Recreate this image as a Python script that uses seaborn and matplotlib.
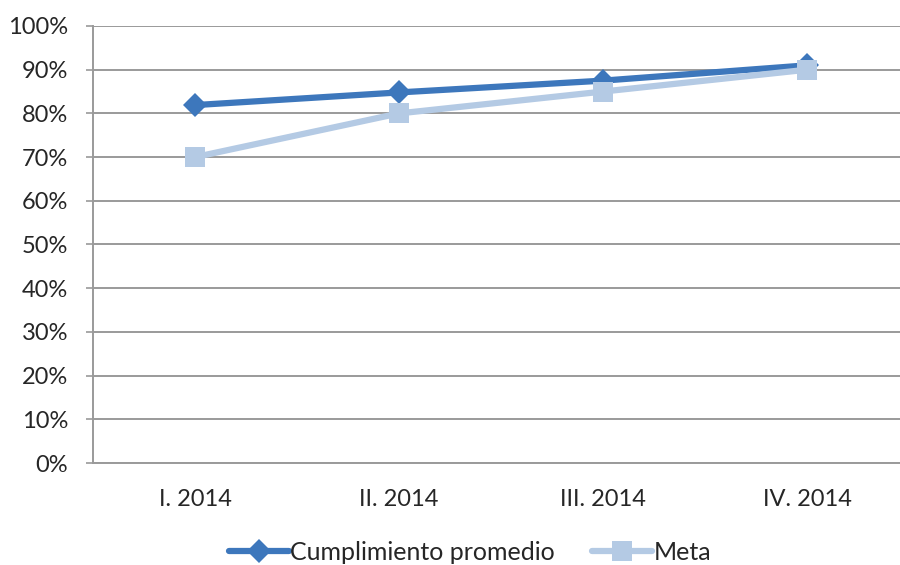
import matplotlib
matplotlib.use("Agg")
import matplotlib.pyplot as plt
import seaborn as sns
import pandas as pd
from matplotlib.ticker import FuncFormatter, MultipleLocator

periods = ["I. 2014", "II. 2014", "III. 2014", "IV. 2014"]
cumplimiento = [0.819, 0.848, 0.875, 0.910]
meta = [0.70, 0.80, 0.85, 0.90]
series_names = ["Cumplimiento promedio", "Meta"]

df = pd.concat([
    pd.DataFrame({"periodo": periods, "valor": cumplimiento, "serie": series_names[0]}),
    pd.DataFrame({"periodo": periods, "valor": meta, "serie": series_names[1]}),
])

sns.set_theme(style="white")
plt.rcParams["font.family"] = ["Lato", "DejaVu Sans"]

fig = plt.figure(figsize=(9, 5.65), dpi=100)
ax = fig.add_axes([93 / 900, 1 - 463 / 565, 816 / 900, 437 / 565])

palette = {series_names[0]: "#3D77BC", series_names[1]: "#B4CAE4"}
sns.lineplot(data=df, x="periodo", y="valor", hue="serie", style="serie",
             markers={series_names[0]: "D", series_names[1]: "s"}, dashes=False,
             palette=palette, linewidth=4.5, markersize=13, markeredgewidth=0,
             sort=False, ax=ax, legend=False)
# diamond a bit smaller than the square marker
for line, ms in zip(ax.lines, [12, 14]):
    line.set_markersize(ms)

ax.set_xlim(-0.5, 3.5)
ax.set_ylim(0, 1.0)
ax.yaxis.set_major_locator(MultipleLocator(0.1))
ax.yaxis.set_major_formatter(FuncFormatter(lambda v, _: f"{v * 100:.0f}%"))
ax.grid(axis="y", color="#9A9A9A", linewidth=1.4)
ax.set_axisbelow(True)
ax.set_xlabel("")
ax.set_ylabel("")

for side in ["top", "right"]:
    ax.spines[side].set_visible(False)
for side in ["left", "bottom"]:
    ax.spines[side].set_color("#9A9A9A")
    ax.spines[side].set_linewidth(1.4)

ax.tick_params(axis="y", left=True, length=5, width=1.2, color="#9A9A9A",
               labelsize=17, labelcolor="#262626", pad=13)
ax.tick_params(axis="x", bottom=False, labelsize=17, labelcolor="#262626", pad=13)

handles = [
    plt.Line2D([], [], color=palette[series_names[0]], marker="D", markersize=12,
               markeredgewidth=0, linewidth=4.5),
    plt.Line2D([], [], color=palette[series_names[1]], marker="s", markersize=14,
               markeredgewidth=0, linewidth=4.5),
]
fig.legend(handles, series_names, loc="center", bbox_to_anchor=(470 / 900, 1 - 552 / 565),
           ncol=2, frameon=False, fontsize=18, handlelength=2.4, handletextpad=0.05,
           columnspacing=1.5, labelcolor="#262626")

fig.savefig("out.png", dpi=100)
